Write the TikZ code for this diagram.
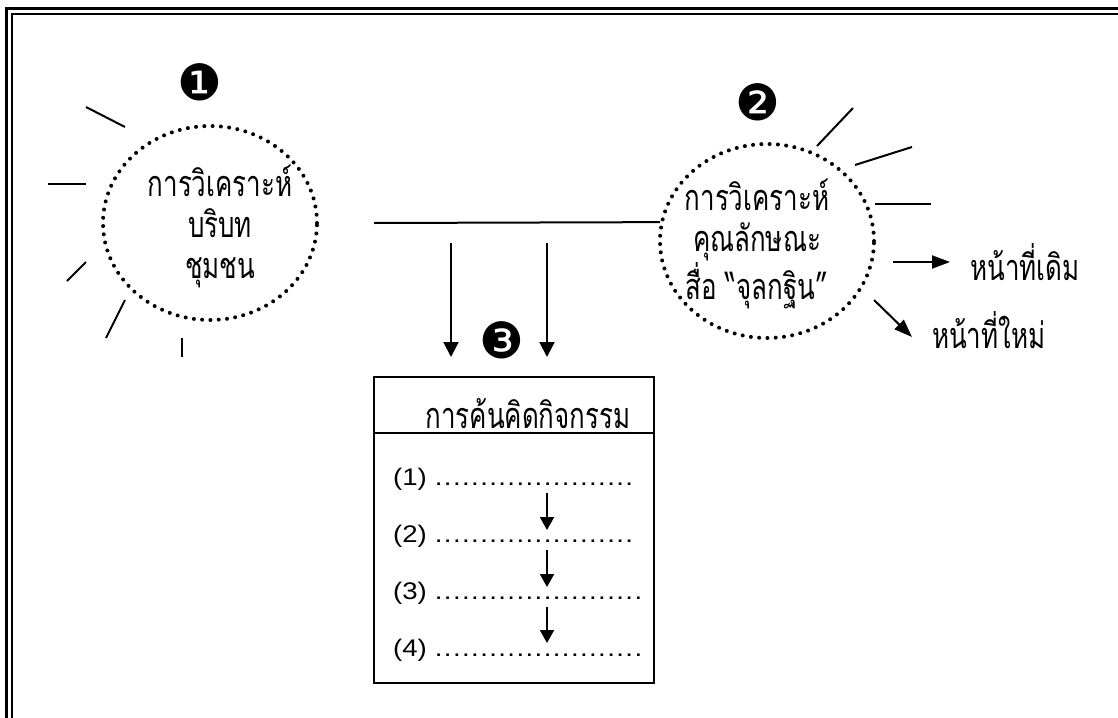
\documentclass[tikz,border=0pt]{standalone}
\usepackage{fontspec}
\setmainfont{Liberation Sans}
\newfontfamily\thai[Script=Thai,FakeStretch=0.72]{Loma}
\newfontfamily\itemfont[FakeStretch=1.15]{Liberation Sans}
\newfontfamily\dejavu{DejaVu Sans}
\usetikzlibrary{arrows.meta,shapes.geometric}
\newcommand\dotrow[1]{\foreach \i in {1,...,#1}{.\kern1.4pt}}
\begin{document}
\begin{tikzpicture}[x=1pt,y=-1pt,
  ray/.style={line width=2pt},
  dotell/.style={ellipse, draw, line width=4pt, dash pattern=on 0pt off 8.3pt, line cap=round,
    minimum width=214pt, minimum height=194pt, inner sep=0pt},
  thaitext/.style={font=\thai\fontsize{36}{41}\selectfont, align=center, inner sep=0pt},
  bullet/.style={font=\dejavu\fontsize{50}{50}\selectfont, inner sep=0pt},
  arr/.style={line width=2pt, -{Triangle[length=15pt,width=15pt]}},
  sarr/.style={line width=2pt, -{Triangle[length=13pt,width=14pt]}},
  item/.style={font=\itemfont\fontsize{24}{26}\selectfont, inner sep=0pt, anchor=base west},
  boxst/.style={draw, line width=2pt, rectangle, minimum width=280pt, minimum height=306pt, inner sep=0pt}
]
\useasboundingbox (0,0) rectangle (1118,717);
\clip (0,0) rectangle (1118,717);
% frame
\draw[line width=3pt] (6.5,9) rectangle (1130,730);
\draw[line width=2pt] (11.5,14.5) rectangle (1124,724);

% ellipse 1
\node[dotell] (e1) at (210,223) {};
\node[thaitext] (t1) at (220,226) {การวิเคราะห์\\บริบท\\ชุมชน};
\node[bullet] (b1) at (200,82) {❶};
\draw[ray] (86,107) -- (125,127);
\draw[ray] (48,184) -- (86,184);
\draw[ray] (67,281) -- (86,262);
\draw[ray] (106,338) -- (125,300);
\draw[ray] (182,338) -- (182,357);

% ellipse 2
\node[dotell] (e2) at (767,241) {};
\node[thaitext] (t2) at (757,244) {การวิเคราะห์\\คุณลักษณะ\\สื่อ “จุลกฐิน”};
\node[bullet] (b2) at (758,102) {❷};
\draw[ray] (817,146) -- (853,108);
\draw[ray] (855,165) -- (912,147);
\draw[ray] (875,204) -- (931,204);

\node[thaitext, anchor=west] (n1) at (970,262) {หน้าที่เดิม};
\node[thaitext, anchor=west] (n2) at (932,330) {หน้าที่ใหม่};
\coordinate (a1) at (893,262);
\coordinate (a2) at (874,300);
\coordinate (a2e) at (912,337);
\draw[arr,-{Triangle[length=18pt,width=13pt]}] (a1) -- ([xshift=-20pt]n1.west);
\draw[arr,-{Triangle[length=18pt,width=13pt]}] (a2) -- (a2e);

% connector line
\coordinate (h) at (374,223);
\draw[ray] (h) -- (e2.170.3);

% box
\node[boxst] (box) at (514,530) {};
\draw[line width=1.5pt] (box.west |- 0,433) -- (box.east |- 0,433);
\node[thaitext] (hd) at (528,414) {การค้นคิดกิจกรรม};
\node[bullet] (b3) at (502,340) {❸};

\coordinate (d1) at (451,243);
\coordinate (d2) at (547,243);
\draw[arr] (d1) -- (451,357);
\draw[arr] (d2) -- (547,357);

\node[item] (r1) at (393,485) {(1)\hspace{8pt}\dotrow{22}};
\node[item] (r2) at (393,542) {(2)\hspace{8pt}\dotrow{22}};
\node[item] (r3) at (393,599) {(3)\hspace{8pt}\dotrow{23}};
\node[item] (r4) at (393,656) {(4)\hspace{8pt}\dotrow{23}};

\draw[sarr] (547,493) -- (547,530);
\draw[sarr] (547,550) -- (547,587);
\draw[sarr] (547,607) -- (547,643);
\end{tikzpicture}
\end{document}
